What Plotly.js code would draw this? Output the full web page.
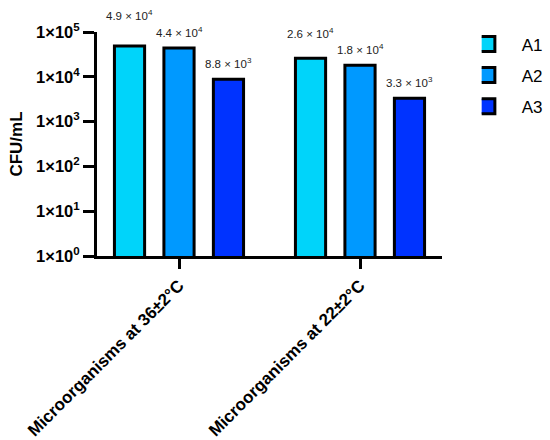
<!DOCTYPE html>
<html>
<head>
<meta charset="utf-8">
<script src="https://cdn.plot.ly/plotly-3.0.1.min.js"></script>
<style>html,body{margin:0;padding:0;background:#fff;}#chart{width:550px;height:440px;}</style>
</head>
<body>
<div id="chart"></div>
<script>
// ---- data ----
var categories = ["Microorganisms at 36±2°C", "Microorganisms at 22±2°C"];
var seriesNames = ["A1", "A2", "A3"];
var valuesA1 = [49000, 26000];
var valuesA2 = [44000, 18000];
var valuesA3 = [8800, 3300];
var labelsA1 = ["4.9 × 10<sup>4</sup>", "2.6 × 10<sup>4</sup>"];
var labelsA2 = ["4.4 × 10<sup>4</sup>", "1.8 × 10<sup>4</sup>"];
var labelsA3 = ["8.8 × 10<sup>3</sup>", "3.3 × 10<sup>3</sup>"];
var yTickVals = [1, 10, 100, 1000, 10000, 100000];
var yTickText = ["1×10<sup>0</sup>", "1×10<sup>1</sup>", "1×10<sup>2</sup>", "1×10<sup>3</sup>", "1×10<sup>4</sup>", "1×10<sup>5</sup>"];

// ---- styles ----
var colors = ["#00D4FA", "#0099FF", "#0033FF"];
var labelShift = [[22, 16], [7, 7], [7, 7]];
var FONT = "Liberation Sans, Arial, sans-serif";

var allValues = [valuesA1, valuesA2, valuesA3];
var allLabels = [labelsA1, labelsA2, labelsA3];

var traces = seriesNames.map(function (name, i) {
  return {
    type: "bar",
    name: name,
    x: categories,
    y: allValues[i],
    legendgroup: name,
    marker: { color: colors[i], line: { color: "#000", width: 3 } },
    hoverinfo: "none"
  };
});

var annotations = [];
seriesNames.forEach(function (name, i) {
  categories.forEach(function (cat, j) {
    annotations.push({
      x: cat, xref: "x",
      y: Math.log10(allValues[i][j]), yref: "y",
      text: allLabels[i][j],
      showarrow: false,
      xanchor: "center", yanchor: "bottom",
      xshift: (i - 1) * 49.5,
      yshift: labelShift[i][j],
      font: { family: FONT, size: 11.5, color: "#222" }
    });
  });
});

var layout = {
  width: 550, height: 440,
  margin: { l: 97, r: 108, t: 32, b: 184, autoexpand: false },
  paper_bgcolor: "#fff", plot_bgcolor: "#fff",
  barmode: "group",
  bargap: 0.18,
  bargroupgap: 0.39,
  showlegend: true,
  legend: {
    x: 1.115, xanchor: "left", y: 1.025, yanchor: "top",
    font: { family: FONT, size: 17, color: "#000" },
    traceorder: "grouped", tracegroupgap: 6,
    itemwidth: 30
  },
  xaxis: {
    type: "category",
    range: [-0.453, 1.453],
    showline: true, linecolor: "#000", linewidth: 3,
    ticks: "outside", ticklen: 10, tickwidth: 3, tickcolor: "#000",
    tickangle: -45,
    tickfont: { family: FONT, size: 17, color: "#000", weight: "bold" },
    showgrid: false, zeroline: false, fixedrange: true
  },
  yaxis: {
    type: "log",
    range: [0, 5],
    tickvals: yTickVals, ticktext: yTickText,
    showline: true, linecolor: "#000", linewidth: 3,
    ticks: "outside", ticklen: 11, tickwidth: 3, tickcolor: "#000",
    tickfont: { family: FONT, size: 16.5, color: "#000", weight: "bold" },
    showgrid: false, zeroline: false, fixedrange: true,
    title: { text: "CFU/mL", standoff: 10, font: { family: FONT, size: 17, color: "#000", weight: "bold" } }
  },
  annotations: annotations
};

Plotly.newPlot("chart", traces, layout, { staticPlot: true, displayModeBar: false }).then(function (gd) {
  // widen legend swatches to match the reference's rectangular keys
  var paths = gd.querySelectorAll(".legend .legendpoints path");
  paths.forEach(function (p) {
    p.setAttribute("transform", "scale(2.2,1.25)");
    p.style.vectorEffect = "non-scaling-stroke";
  });
});
</script>
</body>
</html>
